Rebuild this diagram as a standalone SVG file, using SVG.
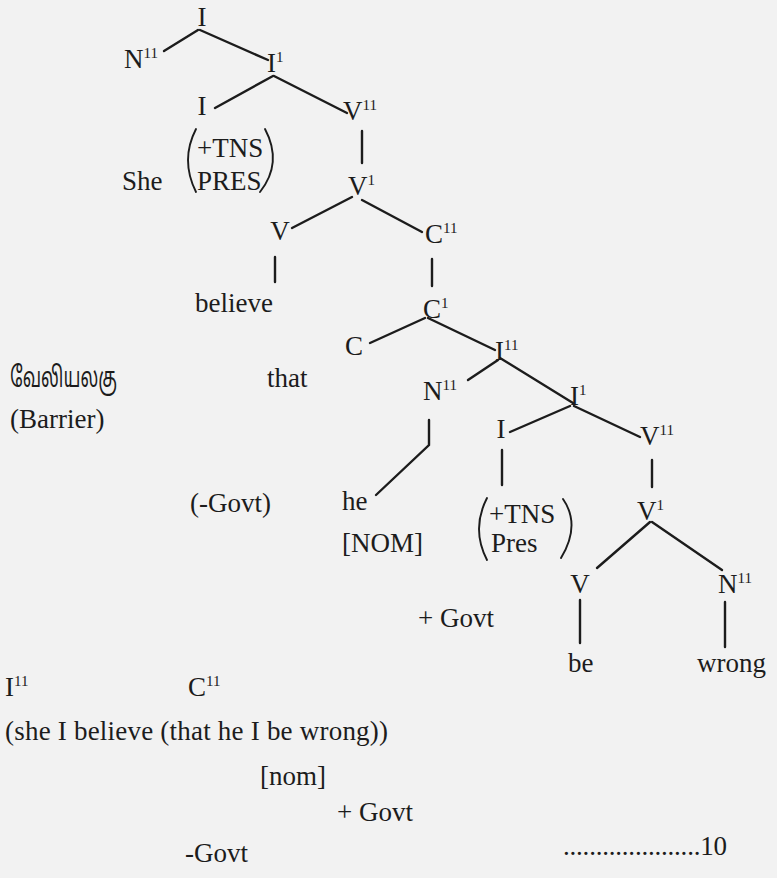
<svg xmlns="http://www.w3.org/2000/svg" width="777" height="878" viewBox="0 0 777 878">
<style>
text{font-family:"Liberation Serif","DejaVu Serif",serif;font-size:27px;fill:#1c1c1c}
.sup{font-size:15px}
.ta{font-family:"Noto Sans Tamil","Lohit Tamil","Latha","Noto Sans","DejaVu Sans",sans-serif;font-size:28px}
.m{text-anchor:middle}
#connectors line,#connectors polyline{stroke:#1c1c1c;stroke-width:2.4;fill:none;stroke-linecap:round}
.paren{stroke:#1c1c1c;stroke-width:1.9;fill:none;stroke-linecap:round}
</style>
<rect width="777" height="878" fill="#f2f2f2"/>
<g id="connectors">
<line x1="198" y1="30" x2="164" y2="51"/>
<line x1="200" y1="30" x2="268" y2="60"/>
<line x1="273" y1="76" x2="215" y2="108"/>
<line x1="274" y1="76" x2="347" y2="113"/>
<line x1="362" y1="131" x2="362" y2="163"/>
<line x1="352" y1="197" x2="292" y2="228"/>
<line x1="362" y1="200" x2="422" y2="232"/>
<line x1="275" y1="257" x2="275" y2="282"/>
<line x1="432" y1="259" x2="432" y2="286"/>
<line x1="425" y1="318" x2="370" y2="343"/>
<line x1="428" y1="318" x2="495" y2="350"/>
<line x1="498" y1="360" x2="468" y2="380"/>
<line x1="500" y1="358" x2="573" y2="403"/>
<line x1="570" y1="406" x2="510" y2="432"/>
<line x1="574" y1="406" x2="640" y2="437"/>
<polyline points="429,420 429,445 376,495"/>
<line x1="502" y1="450" x2="502" y2="485"/>
<line x1="652" y1="460" x2="652" y2="487"/>
<line x1="650" y1="522" x2="597" y2="568"/>
<line x1="652" y1="522" x2="722" y2="570"/>
<line x1="580" y1="600" x2="580" y2="643"/>
<line x1="725" y1="602" x2="725" y2="647"/>
</g>
<g id="n-I-top"><text x="202" y="26" class="m">I</text></g>
<g id="n-N2-top"><text x="124" y="68">N<tspan class="sup" dy="-10">11</tspan></text></g>
<g id="n-I1-top"><text x="267" y="72">I<tspan class="sup" dy="-10">1</tspan></text></g>
<g id="n-I-infl"><text x="202" y="115" class="m">I</text></g>
<g id="n-V2-top"><text x="343" y="120">V<tspan class="sup" dy="-10">11</tspan></text></g>
<g id="n-features-top">
<text x="122" y="190">She</text>
<path class="paren" d="M196,129 Q180,160 196,192"/>
<text x="197" y="157">+TNS</text>
<text x="197" y="190">PRES</text>
<path class="paren" d="M265,129 Q283,163 260,192"/>
</g>
<g id="n-V1-top"><text x="348" y="195">V<tspan class="sup" dy="-10">1</tspan></text></g>
<g id="n-V-top"><text x="280" y="240" class="m">V</text></g>
<g id="n-C2"><text x="425" y="243">C<tspan class="sup" dy="-10">11</tspan></text></g>
<g id="n-believe"><text x="195" y="312">believe</text></g>
<g id="n-C1"><text x="423" y="318">C<tspan class="sup" dy="-10">1</tspan></text></g>
<g id="n-C"><text x="345" y="355">C</text></g>
<g id="n-I2"><text x="495" y="360">I<tspan class="sup" dy="-10">11</tspan></text></g>
<g id="n-N2-mid"><text x="423" y="400">N<tspan class="sup" dy="-10">11</tspan></text></g>
<g id="n-I1-low"><text x="570" y="405">I<tspan class="sup" dy="-10">1</tspan></text></g>
<g id="n-I-low"><text x="501" y="438" class="m">I</text></g>
<g id="n-V2-low"><text x="640" y="445">V<tspan class="sup" dy="-10">11</tspan></text></g>
<g id="n-barrier">
<text x="10" y="387" class="ta" textLength="107" lengthAdjust="spacingAndGlyphs">வேலியலகு</text>
<text x="10" y="428">(Barrier)</text>
</g>
<g id="n-that"><text x="267" y="387">that</text></g>
<g id="n-minus-govt"><text x="190" y="512">(-Govt)</text></g>
<g id="n-he">
<text x="342" y="510">he</text>
<text x="342" y="552">[NOM]</text>
</g>
<g id="n-features-low">
<path class="paren" d="M487,498 Q471,529 487,560"/>
<text x="489" y="523">+TNS</text>
<text x="491" y="552">Pres</text>
<path class="paren" d="M563,499 Q581,525 561,558"/>
</g>
<g id="n-V1-low"><text x="637" y="520">V<tspan class="sup" dy="-10">1</tspan></text></g>
<g id="n-V-low"><text x="580" y="593" class="m">V</text></g>
<g id="n-N2-low"><text x="718" y="593">N<tspan class="sup" dy="-10">11</tspan></text></g>
<g id="n-plus-govt"><text x="418" y="627">+ Govt</text></g>
<g id="n-be"><text x="568" y="672">be</text></g>
<g id="n-wrong"><text x="697" y="672">wrong</text></g>
<g id="bottom">
<text x="5" y="696">I<tspan class="sup" dy="-10">11</tspan></text>
<text x="188" y="696">C<tspan class="sup" dy="-10">11</tspan></text>
<text x="5" y="740" textLength="383" lengthAdjust="spacing">(she I believe (that he I be wrong))</text>
<text x="260" y="785">[nom]</text>
<text x="337" y="821">+ Govt</text>
<text x="185" y="862">-Govt</text>
<text x="563" y="855" textLength="164" lengthAdjust="spacing">.....................10</text>
</g>
</svg>
